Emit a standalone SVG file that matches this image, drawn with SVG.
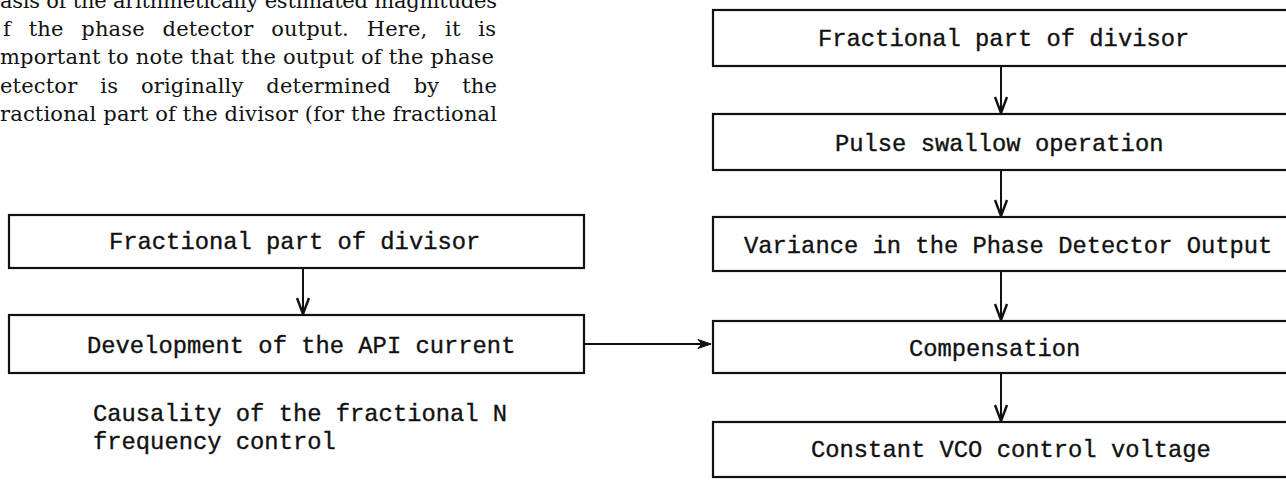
<svg xmlns="http://www.w3.org/2000/svg" width="1286" height="480" viewBox="0 0 1286 480">
<style>
  .bg { fill: #ffffff; }
  .box { fill: #ffffff; stroke: #111; stroke-width: 2.2; }
  .lbl { font-family: "Liberation Mono", "DejaVu Sans Mono", monospace; font-size: 23.8px; fill: #111; stroke: #111; stroke-width: 0.35; }
  .para { font-family: "DejaVu Serif", "Liberation Serif", serif; font-size: 21px; fill: #111; }
  .conn { stroke: #111; stroke-width: 2; fill: none; }
</style>
<defs>
  <marker id="vhead" markerUnits="userSpaceOnUse" markerWidth="20" markerHeight="16" refX="0" refY="0" orient="auto" viewBox="-18 -8 20 16" overflow="visible">
    <path d="M -16 -6 L 0 0 L -16 6" fill="none" stroke="#111" stroke-width="2.4"/>
  </marker>
  <marker id="fhead" markerUnits="userSpaceOnUse" markerWidth="16" markerHeight="10" refX="0" refY="0" orient="auto" viewBox="-15 -5 16 10" overflow="visible">
    <path d="M -13 -4.5 L 0 0 L -13 4.5 L -9 0 Z" fill="#111" stroke="#111" stroke-width="1"/>
  </marker>
</defs>
<rect class="bg" x="0" y="0" width="1286" height="480"/>

<g id="paragraph">
  <text class="para" x="0" y="8" textLength="497" lengthAdjust="spacing">asis of the arithmetically estimated magnitudes</text>
  <text class="para" x="3" y="36" textLength="493" lengthAdjust="spacing" style="word-spacing:11px">f the phase detector output. Here, it is</text>
  <text class="para" x="0" y="64" textLength="494" lengthAdjust="spacing">mportant to note that the output of the phase</text>
  <text class="para" x="0" y="93" textLength="497" lengthAdjust="spacing" style="word-spacing:16px">etector is originally determined by the</text>
  <text class="para" x="0" y="121" textLength="497" lengthAdjust="spacing">ractional part of the divisor (for the fractional</text>
</g>

<g id="connectors">
  <line class="conn" x1="303" y1="268" x2="303" y2="314" marker-end="url(#vhead)"/>
  <line class="conn" x1="584" y1="344" x2="711" y2="344" marker-end="url(#fhead)"/>
  <line class="conn" x1="1001" y1="66" x2="1001" y2="113" marker-end="url(#vhead)"/>
  <line class="conn" x1="1001" y1="170" x2="1001" y2="216" marker-end="url(#vhead)"/>
  <line class="conn" x1="1001" y1="271" x2="1001" y2="320" marker-end="url(#vhead)"/>
  <line class="conn" x1="1001" y1="373" x2="1001" y2="421" marker-end="url(#vhead)"/>
</g>

<g id="left-fractional">
  <rect class="box" x="9" y="215" width="575" height="53"/>
  <text class="lbl" x="109" y="249">Fractional part of divisor</text>
</g>
<g id="left-api">
  <rect class="box" x="9" y="315" width="575" height="58"/>
  <text class="lbl" x="87" y="353">Development of the API current</text>
</g>
<g id="caption">
  <text class="lbl" x="93" y="421">Causality of the fractional N</text>
  <text class="lbl" x="93" y="449">frequency control</text>
</g>

<g id="right-fractional">
  <rect class="box" x="713" y="10" width="580" height="56"/>
  <text class="lbl" x="818" y="46">Fractional part of divisor</text>
</g>
<g id="right-pulse">
  <rect class="box" x="713" y="114" width="580" height="56"/>
  <text class="lbl" x="835" y="151">Pulse swallow operation</text>
</g>
<g id="right-variance">
  <rect class="box" x="713" y="217" width="580" height="54"/>
  <text class="lbl" x="744" y="253">Variance in the Phase Detector Output</text>
</g>
<g id="right-compensation">
  <rect class="box" x="713" y="321" width="580" height="52"/>
  <text class="lbl" x="909" y="356">Compensation</text>
</g>
<g id="right-constant">
  <rect class="box" x="713" y="422" width="580" height="55"/>
  <text class="lbl" x="811" y="457">Constant VCO control voltage</text>
</g>
</svg>
